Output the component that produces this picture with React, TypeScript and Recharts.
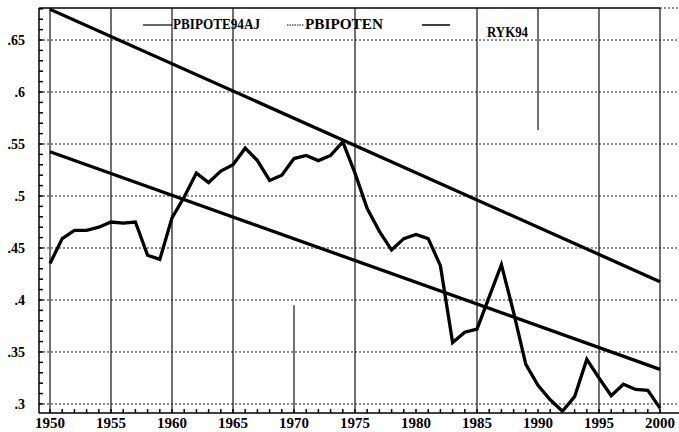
import { LineChart, Line, XAxis, YAxis, ReferenceLine } from 'recharts';

// years on the x axis
const years = [
  1950, 1951, 1952, 1953, 1954, 1955, 1956, 1957, 1958, 1959,
  1960, 1961, 1962, 1963, 1964, 1965, 1966, 1967, 1968, 1969,
  1970, 1971, 1972, 1973, 1974, 1975, 1976, 1977, 1978, 1979,
  1980, 1981, 1982, 1983, 1984, 1985, 1986, 1987, 1988, 1989,
  1990, 1991, 1992, 1993, 1994, 1995, 1996, 1997, 1998, 1999, 2000,
];

// RYK94 (the jagged series)
const ryk94 = [
  0.435, 0.459, 0.467, 0.467, 0.470, 0.475, 0.474, 0.475, 0.443, 0.439,
  0.479, 0.499, 0.522, 0.513, 0.524, 0.530, 0.546, 0.534, 0.515, 0.520,
  0.536, 0.539, 0.534, 0.539, 0.552, 0.522, 0.488, 0.466, 0.448, 0.459,
  0.463, 0.459, 0.433, 0.359, 0.369, 0.372, 0.403, 0.434, 0.388, 0.338,
  0.318, 0.304, 0.293, 0.307, 0.343, 0.325, 0.308, 0.319, 0.314, 0.313, 0.296,
];

// straight trend lines: values at 1950 and 2000
const trendYears = [1950, 2000];
const pbipote94aj = [0.6795, 0.4176];
const pbipoten = [0.5426, 0.3333];

const yLabels = [0.3, 0.35, 0.4, 0.45, 0.5, 0.55, 0.6, 0.65];
const yMinorTicks = [
  0.3, 0.31, 0.32, 0.33, 0.34, 0.35, 0.36, 0.37, 0.38, 0.39,
  0.4, 0.41, 0.42, 0.43, 0.44, 0.45, 0.46, 0.47, 0.48, 0.49,
  0.5, 0.51, 0.52, 0.53, 0.54, 0.55, 0.56, 0.57, 0.58, 0.59,
  0.6, 0.61, 0.62, 0.63, 0.64, 0.65, 0.66, 0.67, 0.68,
];
const xLabels = [1950, 1955, 1960, 1965, 1970, 1975, 1980, 1985, 1990, 1995, 2000];
const fullVerticals = [1950, 1955, 1960, 1965, 1975, 1985, 1995, 2000];

const X_MIN = 1949.098;
const X_MAX = 2001.557;
const Y_MIN = 0.2913;
const Y_MAX = 0.6808;

const chartData = years.map((year, i) => {
  const t = trendYears.indexOf(year);
  return {
    year,
    ryk94: ryk94[i],
    pbipote94aj: t >= 0 ? pbipote94aj[t] : null,
    pbipoten: t >= 0 ? pbipoten[t] : null,
  };
});

const fmtY = (v: number) => {
  const hit = yLabels.find((l) => Math.abs(l - v) < 1e-6);
  return hit === undefined ? '' : String(hit).replace(/^0/, '');
};
const fmtX = (v: number) => (xLabels.includes(v) ? String(v) : '');

const tickFont = { fontFamily: 'Liberation Serif', fontWeight: 'bold', fill: '#000' };

const App = () => {
  return (
    <div style={{ position: 'absolute', left: 0, top: 0, width: 679, height: 432, background: '#fff' }}>
      <LineChart width={679} height={432} data={chartData} margin={{ top: 8, right: 0, left: 0, bottom: 0 }}>
        <XAxis
          dataKey="year"
          type="number"
          domain={[X_MIN, X_MAX]}
          ticks={years}
          tickFormatter={fmtX}
          interval={0}
          height={19}
          tickSize={-4}
          tickMargin={8}
          stroke="#000"
          strokeWidth={1.5}
          tick={{ ...tickFont, fontSize: 15 }}
          allowDataOverflow
        />
        <YAxis
          type="number"
          domain={[Y_MIN, Y_MAX]}
          ticks={yMinorTicks}
          tickFormatter={fmtY}
          interval={0}
          width={39}
          tickSize={-4}
          tickMargin={18}
          stroke="#000"
          strokeWidth={1.5}
          tick={{ ...tickFont, fontSize: 14 }}
          allowDataOverflow
        />
        {yLabels.map((v) => (
          <ReferenceLine key={'h' + v} y={v} stroke="#222" strokeDasharray="2 2" strokeWidth={1} />
        ))}
        <ReferenceLine
          segment={[{ x: X_MIN, y: Y_MAX }, { x: 2000, y: Y_MAX }]}
          stroke="#000"
          strokeWidth={1.5}
        />
        <ReferenceLine
          segment={[{ x: 2000, y: Y_MAX }, { x: X_MAX, y: Y_MAX }]}
          stroke="#222"
          strokeDasharray="2 2"
        />
        {fullVerticals.map((v) => (
          <ReferenceLine key={'v' + v} x={v} stroke="#111" strokeWidth={1.2} />
        ))}
        <ReferenceLine segment={[{ x: 1970, y: Y_MIN }, { x: 1970, y: 0.395 }]} stroke="#111" strokeWidth={1.2} />
        <ReferenceLine segment={[{ x: 1990, y: 0.5635 }, { x: 1990, y: Y_MAX }]} stroke="#111" strokeWidth={1.2} />
        <Line
          type="linear"
          dataKey="pbipote94aj"
          name="PBIPOTE94AJ"
          stroke="#000"
          strokeWidth={3.3}
          dot={false}
          connectNulls
          isAnimationActive={false}
        />
        <Line
          type="linear"
          dataKey="pbipoten"
          name="PBIPOTEN"
          stroke="#000"
          strokeWidth={3.3}
          dot={false}
          connectNulls
          isAnimationActive={false}
        />
        <Line
          type="linear"
          dataKey="ryk94"
          name="RYK94"
          stroke="#000"
          strokeWidth={3.3}
          dot={false}
          isAnimationActive={false}
        />
      </LineChart>
      {/* legend, drawn over the plot like the original */}
      <svg width={679} height={45} style={{ position: 'absolute', left: 0, top: 0, pointerEvents: 'none' }}>
        <g fontFamily="Liberation Serif" fontWeight="bold" fontSize={14} fill="#000">
          <line x1={143} y1={25} x2={172} y2={25} stroke="#000" strokeWidth={1.2} />
          <text x={173} y={29} textLength={87} lengthAdjust="spacingAndGlyphs">PBIPOTE94AJ</text>
          <line x1={287} y1={25} x2={304} y2={25} stroke="#000" strokeWidth={1} strokeDasharray="1.5 1" />
          <text x={305} y={29} textLength={78} lengthAdjust="spacingAndGlyphs">PBIPOTEN</text>
          <line x1={422} y1={25} x2={450} y2={25} stroke="#000" strokeWidth={1.5} />
          <text x={487} y={37} textLength={41} lengthAdjust="spacingAndGlyphs">RYK94</text>
        </g>
      </svg>
    </div>
  );
};

export default App;
